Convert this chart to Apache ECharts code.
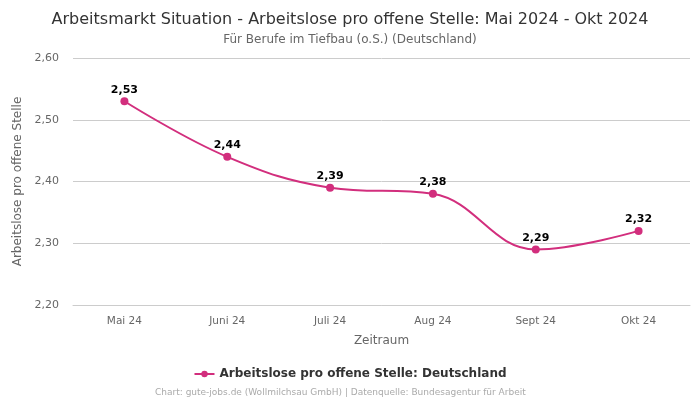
<!DOCTYPE html>
<html><head><meta charset="utf-8">
<script src="https://cdn.jsdelivr.net/npm/echarts@6/dist/echarts.min.js"></script>
<style>html,body{margin:0;padding:0;background:#fff}#c{width:700px;height:400px}</style>
</head><body><div id="c"></div>
<script>
const categories = ["Mai 24","Juni 24","Juli 24","Aug 24","Sept 24","Okt 24"];
const values = [2.53, 2.44, 2.39, 2.38, 2.29, 2.32];
const seriesName = "Arbeitslose pro offene Stelle: Deutschland";
const font = "DejaVu Sans";
const fmt = v => v.toFixed(2).replace('.', ',');
const chart = echarts.init(document.getElementById('c'), null, {renderer:'canvas'});
chart.setOption({
  animation:false,
  textStyle:{fontFamily:font},
  title:[
    {text:"Arbeitsmarkt Situation - Arbeitslose pro offene Stelle: Mai 2024 - Okt 2024", left:'center', top:7,
     textStyle:{fontFamily:font,fontSize:16,fontWeight:'normal',color:'#333'}},
    {text:"Für Berufe im Tiefbau (o.S.) (Deutschland)", left:'center', top:29,
     textStyle:{fontFamily:font,fontSize:12,fontWeight:'normal',color:'#666'}},
    {text:"Chart: gute-jobs.de (Wollmilchsau GmbH) | Datenquelle: Bundesagentur für Arbeit", left:150, top:383,
     textStyle:{fontFamily:font,fontSize:9,fontWeight:'normal',color:'#aaa'}}
  ],
  legend:{bottom:15, left:'center', itemWidth:20, itemHeight:8,
    textStyle:{fontFamily:font,fontSize:12,fontWeight:'bold',color:'#333'},
    data:[seriesName]},
  grid:{left:73,right:10,top:58,bottom:95},
  xAxis:{type:'category', data:categories, boundaryGap:true,
    name:'Zeitraum', nameLocation:'middle', nameGap:30,
    nameTextStyle:{fontFamily:font,fontSize:12,color:'#666'},
    axisLine:{lineStyle:{color:'#ccc'}}, axisTick:{show:false},
    axisLabel:{fontFamily:font,fontSize:10.5,color:'#666',margin:11}},
  yAxis:{type:'value', min:2.2, max:2.6, interval:0.1,
    name:'Arbeitslose pro offene Stelle', nameLocation:'middle', nameGap:39,
    nameTextStyle:{fontFamily:font,fontSize:12,color:'#666'},
    axisLine:{show:false}, axisTick:{show:false},
    splitLine:{lineStyle:{color:'#ccc'}},
    axisLabel:{fontFamily:font,fontSize:11,color:'#666',margin:14,formatter:v=>fmt(v)}},
  series:[{name:seriesName, type:'line', data:values, smooth:0.4,
    symbol:'circle', symbolSize:8,
    itemStyle:{color:'#d22e7d'}, lineStyle:{color:'#d22e7d',width:2},
    label:{show:true, position:'top', distance:2, fontFamily:font, fontSize:11, fontWeight:'bold', color:'#000',
      formatter:p=>fmt(p.value)}}]
});
</script></body></html>
